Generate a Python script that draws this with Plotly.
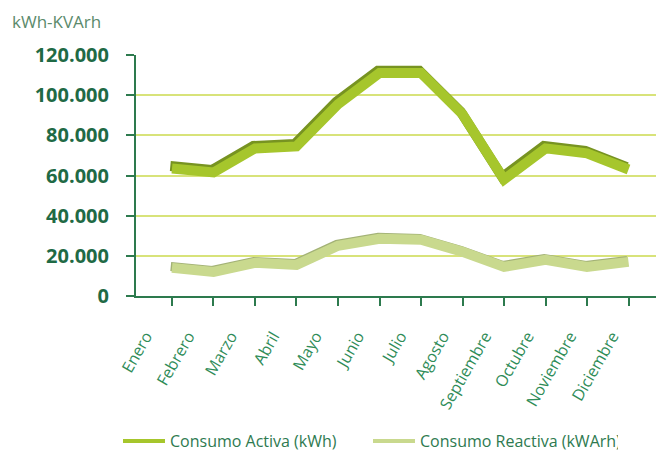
import plotly.graph_objects as go

months = ["Enero", "Febrero", "Marzo", "Abril", "Mayo", "Junio", "Julio",
          "Agosto", "Septiembre", "Octubre", "Noviembre", "Diciembre"]
activa = [63500, 61500, 73500, 74500, 95500, 111000, 111000, 90500, 58000, 73500, 71000, 63000]
reactiva = [14000, 12000, 16500, 15500, 25000, 28500, 28000, 22000, 14500, 18000, 14500, 17000]
y_tickvals = [0, 20000, 40000, 60000, 80000, 100000, 120000]
y_ticktext = ["0", "20.000", "40.000", "60.000", "80.000", "100.000", "120.000"]

x = list(range(len(months)))

# shadow offsets (3D look of original lines)
act_dx, act_dy = -0.04, 1200
rea_dx, rea_dy = -0.03, 700

C_ACT, C_ACT_SH = "#a6c62c", "#779321"
C_REA, C_REA_SH = "#c9d98e", "#a3b276"

# page body has an 8px margin -> figure is 8px smaller and positions shifted by 8
W, H = 656, 445

fig = go.Figure()
fig.add_trace(go.Scatter(x=[v + rea_dx for v in x], y=[v + rea_dy for v in reactiva], mode="lines",
                         line=dict(color=C_REA_SH, width=9), showlegend=False, hoverinfo="skip"))
fig.add_trace(go.Scatter(x=x, y=reactiva, mode="lines", name="Consumo Reactiva (kWArh)",
                         line=dict(color=C_REA, width=10), showlegend=False))
fig.add_trace(go.Scatter(x=[v + act_dx for v in x], y=[v + act_dy for v in activa], mode="lines",
                         line=dict(color=C_ACT_SH, width=10), showlegend=False, hoverinfo="skip"))
fig.add_trace(go.Scatter(x=x, y=activa, mode="lines", name="Consumo Activa (kWh)",
                         line=dict(color=C_ACT, width=10), showlegend=False))
# legend entries (thinner lines as in the original legend)
fig.add_trace(go.Scatter(x=[None], y=[None], mode="lines", name="Consumo Activa (kWh)",
                         line=dict(color=C_ACT, width=4)))
fig.add_trace(go.Scatter(x=[None], y=[None], mode="lines", name="Consumo Reactiva (kWArh)",
                         line=dict(color=C_REA, width=4)))
# carrier for the month-label axis
fig.add_trace(go.Scatter(x=[None], y=[None], xaxis="x2", mode="lines", showlegend=False,
                         hoverinfo="skip"))

fig.update_layout(
    width=W, height=H,
    margin=dict(l=128, r=0, t=47, b=157, autoexpand=False),
    paper_bgcolor="white", plot_bgcolor="white",
    font=dict(family="Open Sans", color="#2e7a50"),
    xaxis=dict(range=[-0.867, 11.855], tickmode="array", tickvals=x, showticklabels=False,
               ticks="outside", ticklen=8, tickwidth=2, tickcolor="#2d7a4e",
               showline=True, linecolor="#2d7a4e", linewidth=2, showgrid=False, zeroline=False,
               automargin=False),
    xaxis2=dict(type="linear", overlaying="x", anchor="y", side="bottom",
                range=[-0.849, 11.604], tickmode="array", tickvals=x, ticktext=months,
                tickangle=-60, ticks="", showline=False, showgrid=False, zeroline=False,
                tickfont=dict(size=16, color="#2f8c58", family="Open Sans"),
                ticklabelshift=-26, ticklabelstandoff=27, automargin=False),
    yaxis=dict(range=[0, 120000], tickmode="array", tickvals=y_tickvals, ticktext=y_ticktext,
               ticks="outside", ticklen=8, tickwidth=2, tickcolor="#2d7a4e",
               showline=True, linecolor="#2d7a4e", linewidth=2,
               showgrid=True, gridcolor="#d8e37a", gridwidth=1.5, zeroline=False,
               tickfont=dict(size=20, color="#1f6a45", family="Open Sans", weight="bold"),
               ticklabelstandoff=13, automargin=False),
    legend=dict(orientation="h", x=110 / W, y=1 - 433 / H, xref="container", yref="container",
                xanchor="left", yanchor="middle", font=dict(size=16, color="#2e7a50"),
                itemwidth=42, traceorder="normal", entrywidth=193, entrywidthmode="pixels"),
    showlegend=True,
    title=dict(text="kWh-KVArh", x=4 / W, y=1 - 14 / H, xref="container", yref="container",
               xanchor="left", yanchor="middle",
               font=dict(size=17, color="#5b8a6b", family="Open Sans")),
)

fig.write_html("out.html")
